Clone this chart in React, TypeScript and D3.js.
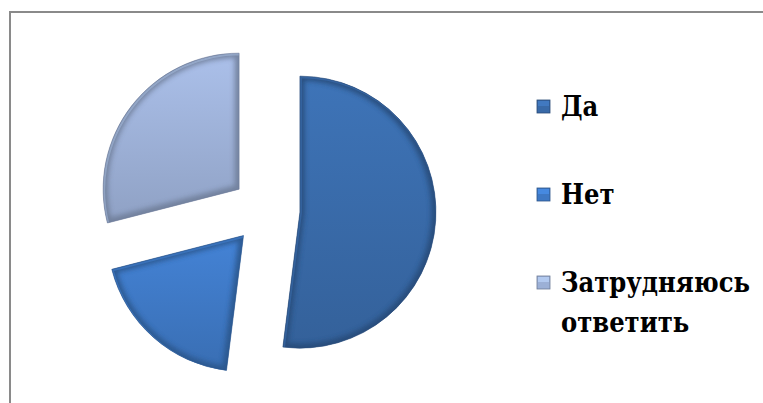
import React from "react";
import * as d3 from "d3";

const categories = ["Да", "Нет", "Затрудняюсь ответить"];
const values = [52, 19, 29];
const colors = ["#396aa8", "#3e78c4", "#9cb0d6"];
const legendLines = [["Да"], ["Нет"], ["Затрудняюсь", "ответить"]];

const W = 763;
const H = 403;
const cx = 266;
const cy = 210;
const R = 136;
const explode = 34;
const FONT = "'DejaVu Serif Condensed', 'DejaVu Serif', serif";

export default function App() {
  const pie = d3
    .pie<number>()
    .sort(null)
    .value((d) => d)
    .startAngle(0)
    .endAngle(2 * Math.PI);
  const arcs = pie(values);
  const arc = d3.arc<d3.PieArcDatum<number>>().innerRadius(0).outerRadius(R);

  const legendY = d3.scaleLinear().domain([0, 2]).range([116, 292]);

  return (
    <svg
      width={W}
      height={H}
      style={{ position: "absolute", left: 0, top: 0, background: "#fff" }}
    >
      <defs>
        {colors.map((c, i) => {
          const base = d3.color(c)!;
          return (
            <linearGradient key={i} id={`g${i}`} x1="0" y1="0" x2="0" y2="1">
              <stop offset="0%" stopColor={base.brighter(0.25).toString()} />
              <stop offset="100%" stopColor={base.darker(0.25).toString()} />
            </linearGradient>
          );
        })}
        <filter id="blur" x="-20%" y="-20%" width="140%" height="140%">
          <feGaussianBlur stdDeviation="2.5" />
        </filter>
        {arcs.map((a, i) => (
          <clipPath key={i} id={`c${i}`}>
            <path d={arc(a) || ""} />
          </clipPath>
        ))}
      </defs>

      <rect x={10} y={12} width={W + 20} height={H + 20} fill="#fff" stroke="#8a8a8a" strokeWidth={2} />

      {arcs.map((a, i) => {
        const mid = (a.startAngle + a.endAngle) / 2;
        const dx = explode * Math.sin(mid);
        const dy = -explode * Math.cos(mid);
        const d = arc(a) || "";
        const dark = d3.color(colors[i])!.darker(1).toString();
        const light = d3.color(colors[i])!.brighter(0.6).toString();
        return (
          <g key={i} transform={`translate(${cx + dx},${cy + dy})`}>
            <path d={d} fill={`url(#g${i})`} />
            <g clipPath={`url(#c${i})`}>
              <path d={d} fill="none" stroke={dark} strokeWidth={9} filter="url(#blur)" opacity={0.85} />
              <path d={d} fill="none" stroke={light} strokeWidth={2} opacity={0.35} transform="translate(1,1)" />
            </g>
            <path d={d} fill="none" stroke={dark} strokeWidth={0.8} opacity={0.7} />
          </g>
        );
      })}

      {categories.map((c, i) => {
        const y = legendY(i);
        const base = d3.color(colors[i])!;
        return (
          <g key={c}>
            <rect
              x={537}
              y={y - 16}
              width={13}
              height={13}
              fill={colors[i]}
              stroke={base.darker(1).toString()}
              strokeWidth={0.8}
            />
            <rect x={538} y={y - 15} width={11} height={5} fill={base.brighter(0.6).toString()} opacity={0.6} />
            <text
              x={561}
              y={y}
              style={{ fontFamily: FONT, fontWeight: 700, fontSize: "27px" }}
              fill="#000"
            >
              {legendLines[i].map((l, j) => (
                <tspan key={j} x={561} dy={j === 0 ? 0 : 40}>
                  {l}
                </tspan>
              ))}
            </text>
          </g>
        );
      })}
    </svg>
  );
}
